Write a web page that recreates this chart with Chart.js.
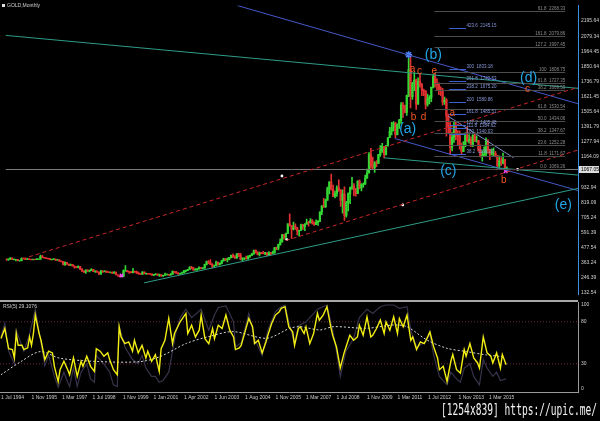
<!DOCTYPE html>
<html><head><meta charset="utf-8">
<script src="https://cdn.jsdelivr.net/npm/chart.js@4.4.1/dist/chart.umd.min.js"></script>
<style>
html,body{margin:0;padding:0;background:#000;width:600px;height:421px;overflow:hidden;position:relative}
canvas{position:absolute;left:0}
#cMain{top:0}
#cRsi{top:300px}
.lbl{position:absolute;color:#d0d0d0;font-family:"Liberation Sans",Arial,sans-serif;font-size:5px;line-height:6px;white-space:nowrap}
.ico{display:inline-block;width:3px;height:3px;background:#e0e0e0;margin-right:2px;vertical-align:middle}
#wm{position:absolute;left:441px;top:401px;color:#f2f2f2;font-family:"DejaVu Sans Mono",monospace;font-size:15px;line-height:18px;white-space:nowrap;transform-origin:0 0;transform:scaleX(0.64)}
</style></head><body>
<canvas id="cMain" width="600" height="300"></canvas>
<canvas id="cRsi" width="600" height="121"></canvas>
<div class="lbl" style="left:2px;top:2px"><span class="ico"></span>GOLD,Monthly</div>
<div class="lbl" style="left:3px;top:303px">RSI(5) 29.1076</div>
<div id="wm">[1254x839] https://upic.me/</div>
<script>
// ================= DATA =================
const firstOpen = 385;
const closes = [
384,386,395,383,383,383,
375,376,392,389,385,387,383,382,384,383,387,387,
405,400,396,392,391,382,385,387,379,379,371,369,
345,362,348,340,345,334,326,325,332,311,296,290,
304,297,301,309,293,296,288,273,294,292,294,288,
287,287,280,286,268,262,255,255,299,300,292,290,
283,293,290,278,275,272,289,276,277,275,273,264,270,273,
265,267,258,264,267,270,265,273,293,286,279,275,279,
282,296,301,308,326,318,304,309,312,323,316,319,347,
368,360,347,334,336,361,346,354,375,388,382,386,398,416,
403,396,426,418,387,394,395,391,408,416,428,453,438,
422,435,432,428,435,417,436,429,433,473,470,496,517,
569,556,582,654,643,614,633,624,599,604,646,632,
651,665,662,679,659,650,665,673,743,789,783,834,
923,971,917,864,885,928,912,833,880,718,815,882,
927,942,917,883,979,927,955,955,1001,1040,1181,1096,
1081,1118,1113,1180,1212,1244,1181,1248,1308,1357,1384,1421,
1332,1411,1439,1556,1536,1500,1628,1825,1620,1722,1746,1564,
1738,1710,1669,1664,1561,1604,1614,1691,1772,1719,1712,1675,
1663,1578,1596,1472,1393,1234,1313,1396,1327,1323,1253,1202,
1244,1326,1284,1296,1250,1327,1282,1287,1210,1172,1175,1184,
1283,1213,1183,1183,1190,1172,1095,1133,1115,1142,1065,1067];
const highs = [
389,388,398,396,389,385,
384,378,396,396,393,392,390,387,386,387,390,389,
418,415,401,396,394,391,387,390,388,385,383,373,
370,366,356,348,349,346,336,329,335,332,314,298,
306,306,304,315,309,298,298,289,301,300,300,297,
292,290,290,291,290,265,263,259,305,338,300,293,
292,316,296,296,288,279,292,290,281,279,278,275,271,276,
274,272,269,266,280,275,271,276,298,294,294,285,281,
289,301,304,309,328,331,325,314,315,327,325,322,349,
372,375,383,353,341,372,366,359,376,392,390,395,401,417,
427,414,428,430,430,396,397,409,413,418,429,456,457,
443,440,438,446,438,436,443,437,447,476,478,500,541,
575,574,584,655,730,643,668,654,628,606,652,650,
656,691,674,695,687,670,684,680,745,794,848,842,
933,976,1033,949,904,943,988,915,913,935,825,889,
933,1007,961,924,981,989,960,965,1025,1070,1195,1227,
1162,1128,1135,1183,1249,1265,1243,1250,1310,1388,1425,1431,
1424,1413,1448,1575,1577,1557,1632,1913,1921,1730,1803,1754,
1764,1790,1721,1677,1665,1640,1629,1693,1788,1796,1755,1726,
1695,1684,1617,1605,1488,1424,1348,1433,1425,1362,1361,1267,
1280,1345,1392,1332,1315,1332,1345,1323,1288,1255,1208,1239,
1307,1294,1220,1224,1232,1205,1175,1170,1157,1191,1142,1088];
const lows = [
377,376,385,382,381,372,
372,370,373,387,382,384,382,380,380,381,382,385,
387,398,394,389,387,380,380,384,377,378,370,365,
342,339,347,336,339,333,317,319,319,306,292,283,
277,294,289,299,292,285,287,271,273,286,290,283,
283,282,278,279,267,256,252,251,254,294,290,277,
281,282,286,276,273,270,271,275,271,272,270,264,261,267,
262,255,255,255,263,266,262,264,270,282,277,271,271,
277,281,289,298,306,312,300,302,301,310,312,313,316,
343,352,345,319,324,335,341,340,350,370,375,366,381,396,
398,392,391,405,381,371,382,387,385,400,413,423,431,
418,411,426,426,421,414,414,418,428,431,459,456,493,
515,538,535,582,636,543,609,612,571,560,604,612,
603,651,637,662,651,642,648,643,671,725,780,779,
833,881,911,861,851,862,900,786,736,681,705,753,
808,915,866,865,884,920,905,933,954,1002,1043,1075,
1074,1044,1089,1113,1166,1196,1155,1175,1245,1308,1330,1360,
1309,1330,1380,1418,1462,1496,1478,1620,1535,1600,1666,1523,
1563,1693,1628,1627,1527,1548,1565,1582,1686,1692,1672,1635,
1627,1555,1562,1321,1339,1180,1208,1272,1291,1251,1221,1182,
1202,1240,1277,1268,1240,1241,1281,1275,1206,1161,1131,1170,
1167,1191,1142,1175,1169,1162,1077,1080,1098,1110,1052,1046];
const currentPrice = 1067.05;

const priceTicks = [2195.64,2079.34,1964.45,1850.64,1736.79,1621.45,1505.64,1391.79,1277.94,1164.09,1050.24,932.94,819.09,705.24,591.39,477.54,363.24,246.39,132.54];
const xTickLabels = ["1 Jul 1994","1 Nov 1995","1 Mar 1997","1 Jul 1998","1 Nov 1999","1 Jan 2001","1 Apr 2002","1 Jun 2003","1 Aug 2004","1 Nov 2005","1 Mar 2007","1 Jul 2008","1 Nov 2009","1 Mar 2011","1 Jul 2012","1 Nov 2013","1 Mar 2015"];
const BARS_PER_LABEL = 16;

// trend lines: [barA, priceA, barB, priceB]
const trendTeal = [[-0.52,2085.8,302.7,1683.4],[199.9,1155.9,302.7,1024.9],[72.9,206.3,302.7,923.3]];
const trendBlue = [[122.2,2312.6,302.7,1566.3],[205.7,1302.2,302.7,907.2]];
const trendSlate = [[234.0,1470.5,268.6,1155.9]];
const channelRed = [[8.4,388.5,302.7,1690.7],[148.0,527.5,302.7,1215.2]];
const whiteDots = [[145.9,1017.6],[148.5,534.8],[209.9,798.2],[270.7,1068.8]];
const pinkMarks = [[60.9,262],[264.4,1054.2]];
const peakStar = [[213.0,1939.4]];

const fibGrayPrice = [2268,2079,1998,1808,1727,1669,1530,1434,1347,1252,1171,1069];
const fibGrayText = ["61.8  2268.33","161.8  2079.86","127.2  1997.45","100  1808.75","61.8  1727.35","38.2  1669.59","61.8  1530.54","50.0  1434.06","38.2  1347.67","23.6  1252.28","11.8  1171.67","0.0  1069.26"];
const fibBluePrice = [2144,1830,1742,1676,1581,1486,1405,1384,1340,1186];
const fibBlueText = ["423.6  2145.15","300  1833.18","261.8  1742.53","238.2  1675.20","200  1580.86","161.8  1485.51","127.2  1405.48","111.8  1384.62","100  1340.03","38.2  1186.23"];

const waveText = ["(b)","(d)","(a)","(c)","(e)"];
const waveBar = [226.1,276.5,212.5,234.0,294.9];
const wavePrice = [1939.4,1763.8,1376.1,1054.2,798.2];
const subText = ["a","c","e","b","d","a","b","c"];
const subBar = [215.1,218.8,226.6,215.6,220.9,236.1,263.4,276.0];
const subPrice = [1829.2,1814.5,1814.5,1463.9,1463.9,1493.2,988.4,1676.0];

// RSI panel: [bar, value]
const rsiMain = [[0,60],[2,72],[4,48],[6,47],[7,37],[8,66],[9,52],[11,52],[12,47],[14,49],[15,62],[16,52],[17,66],[18,88],[20,66],[21,58],[23,35],[25,45],[27,43],[28,27],[30,9],[31,23],[33,33],[35,23],[36,17],[38,37],[40,15],[42,33],[43,27],[45,39],[47,27],[49,21],[50,48],[52,45],[54,39],[56,43],[57,35],[59,23],[61,17],[62,74],[63,62],[65,54],[67,56],[69,45],[70,58],[72,43],[74,52],[76,37],[77,45],[79,33],[81,41],[83,21],[84,48],[86,58],[88,84],[90,54],[91,66],[94,80],[97,90],[98,66],[100,76],[102,62],[104,70],[105,88],[107,60],[109,54],[111,72],[112,60],[114,76],[116,72],[118,88],[120,70],[122,62],[123,47],[125,49],[126,52],[128,68],[130,84],[132,74],[133,54],[135,58],[137,43],[139,56],[140,64],[142,78],[144,88],[146,92],[147,96],[149,98],[151,74],[153,68],[154,52],[156,72],[157,74],[159,66],[160,74],[162,54],[164,66],[166,90],[167,82],[169,88],[171,98],[173,74],[174,64],[176,50],[178,25],[180,43],[181,50],[183,64],[185,58],[187,62],[188,76],[190,64],[192,86],[194,62],[195,64],[197,72],[199,82],[201,66],[202,80],[204,70],[206,86],[208,66],[209,84],[211,74],[213,88],[215,58],[216,62],[218,47],[220,56],[222,54],[223,58],[225,68],[227,50],[229,37],[230,23],[232,27],[234,9],[236,33],[237,41],[239,23],[241,19],[243,47],[244,39],[246,54],[248,37],[250,31],[251,25],[253,62],[255,43],[257,39],[258,31],[260,43],[262,25],[263,41],[265,29]];
const rsiSlow = [[0,62],[2,78],[4,45],[7,30],[8,70],[12,45],[15,65],[18,95],[21,55],[23,28],[25,40],[28,15],[30,2],[33,20],[35,8],[36,3],[38,25],[40,3],[42,20],[45,30],[47,12],[49,8],[50,40],[54,30],[57,20],[59,5],[61,3],[62,75],[65,50],[69,35],[72,30],[74,40],[76,25],[79,15],[81,15],[83,8],[85,10],[88,20],[90,45],[92,70],[94,85],[97,95],[100,85],[105,95],[109,70],[112,88],[114,97],[118,99],[122,80],[123,50],[126,55],[130,90],[133,60],[137,40],[140,70],[144,92],[147,98],[149,100],[151,80],[154,55],[156,75],[160,80],[166,95],[171,100],[174,70],[176,45],[178,15],[181,45],[185,60],[188,85],[192,95],[195,90],[199,98],[202,100],[206,100],[209,96],[213,98],[215,70],[218,50],[222,55],[225,65],[227,40],[230,15],[234,5],[236,20],[239,12],[241,8],[243,25],[246,30],[248,15],[251,5],[253,35],[255,25],[258,15],[260,20],[262,10],[265,12]];
const rsiAvg = [[0,17],[10,32],[20.5,44.5],[31,36.6],[52,32.6],[73,32.6],[83.4,38.5],[97.4,54.4],[110,63],[121.9,68.3],[139.4,60.4],[151.6,72.3],[156.9,74.2],[167.4,70.3],[174.4,74.2],[191.9,72.3],[205.9,76.2],[212.9,74.2],[223.4,58.4],[233.9,48.5],[244.3,44.5],[254.8,40.5],[263.6,38.5]];
const rsiTicks = [0,30,80,100];
const rsiLevels = [80,30];

// ================= SCALE RANGES =================
const X_MIN = -0.52, X_MAX = 302.7;
const Y_MIN = 117.8, Y_MAX = 2312.6;
const R_MIN = -3.57, R_MAX = 103.57;

// ================= BUILD =================
const opens = closes.map((c,i)=> i===0 ? firstOpen : closes[i-1]);
const UP='#33d633', DN='#e03030';
const candleCols = closes.map((c,i)=> c>=opens[i] ? UP : DN);
const wickData = closes.map((c,i)=>({x:i, y:[lows[i], highs[i]]}));
const bodyData = closes.map((c,i)=>({x:i, y:[opens[i], c]}));
const seg = s => [{x:s[0],y:s[1]},{x:s[2],y:s[3]}];
const pts = a => a.map(p=>({x:p[0],y:p[1]}));
const lineDs = (s,color,dash,w) => ({type:'line',data:seg(s),borderColor:color,borderWidth:w||1,borderDash:dash||[],pointRadius:0,fill:false,tension:0});

const FONT = '"Liberation Sans", Arial, sans-serif';
const overlay = {
  id:'overlay',
  afterDatasetsDraw(chart){
    const {ctx, scales:{x,y}, chartArea:a} = chart;
    const X=v=>x.getPixelForValue(v), Y=v=>y.getPixelForValue(v);
    ctx.save();
    ctx.beginPath(); ctx.rect(a.left,a.top,a.right-a.left,a.bottom-a.top); ctx.clip();
    ctx.font = '4.5px '+FONT; ctx.lineWidth=1;
    fibGrayPrice.forEach((v,i)=>{
      const yy=Math.round(Y(v))+0.5;
      ctx.strokeStyle='#4d4d4d'; ctx.beginPath(); ctx.moveTo(X(226.7),yy); ctx.lineTo(X(295.9),yy); ctx.stroke();
      ctx.fillStyle='#8c8c8c'; ctx.textAlign='right'; ctx.textBaseline='bottom';
      ctx.fillText(fibGrayText[i], X(295.9), yy-0.5);
    });
    fibBluePrice.forEach((v,i)=>{
      const yy=Math.round(Y(v))+0.5;
      ctx.strokeStyle='#3f5fcf'; ctx.beginPath(); ctx.moveTo(X(234.5),yy); ctx.lineTo(X(243.4),yy); ctx.stroke();
      ctx.fillStyle='#8a98d8'; ctx.textAlign='left'; ctx.textBaseline='bottom';
      ctx.fillText(fibBlueText[i], X(243.6), yy-0.5);
    });
    ctx.textAlign='center'; ctx.textBaseline='middle';
    ctx.font = '14px '+FONT; ctx.fillStyle='#22a6e6';
    waveText.forEach((t,i)=>ctx.fillText(t, X(waveBar[i]), Y(wavePrice[i])));
    ctx.font = '10px '+FONT; ctx.fillStyle='#f5571f';
    subText.forEach((t,i)=>ctx.fillText(t, X(subBar[i]), Y(subPrice[i])));
    ctx.restore();
  },
  afterDraw(chart){
    const {ctx, scales:{y}} = chart;
    const yy = y.getPixelForValue(currentPrice);
    ctx.save();
    ctx.fillStyle='#dcdcdc'; ctx.fillRect(579, yy-3.5, 20, 7);
    ctx.fillStyle='#000'; ctx.font='5px '+FONT; ctx.textAlign='left'; ctx.textBaseline='middle';
    ctx.fillText(currentPrice.toFixed(2), 581, yy);
    ctx.restore();
  }
};

const mainDatasets = [];
channelRed.forEach(s=>mainDatasets.push(lineDs(s,'#c8262a',[4,3],1)));
trendTeal.forEach(s=>mainDatasets.push(lineDs(s,'#2f9c88')));
trendBlue.forEach(s=>mainDatasets.push(lineDs(s,'#4658c8')));
trendSlate.forEach(s=>mainDatasets.push(lineDs(s,'#7e8cc8')));
mainDatasets.push({type:'line',data:pts(whiteDots),showLine:false,pointRadius:1.4,pointBackgroundColor:'#ffffff',pointBorderWidth:0});
mainDatasets.push({type:'line',data:pts(pinkMarks),showLine:false,pointStyle:'crossRot',pointRadius:2.5,pointBorderColor:'#ff45ff',pointBorderWidth:1.3});
mainDatasets.push({type:'line',data:pts(peakStar),showLine:false,pointStyle:'star',pointRadius:3.5,pointBorderColor:'#4f86ff',pointBorderWidth:1.5});
mainDatasets.push({type:'line',data:[{x:X_MIN,y:currentPrice},{x:X_MAX,y:currentPrice}],borderColor:'#7a7a7a',borderWidth:1,pointRadius:0});
mainDatasets.push({type:'bar',data:bodyData,backgroundColor:candleCols,barThickness:1.6,grouped:false,borderWidth:0});
mainDatasets.push({type:'bar',data:wickData,backgroundColor:candleCols,barThickness:1,grouped:false,borderWidth:0});

new Chart(document.getElementById('cMain'),{
  type:'bar',
  data:{datasets:mainDatasets},
  options:{
    responsive:false, animation:false, events:[],
    plugins:{legend:{display:false},tooltip:{enabled:false}},
    layout:{padding:0},
    scales:{
      x:{type:'linear',min:X_MIN,max:X_MAX,offset:false,display:false},
      y:{type:'linear',position:'right',min:Y_MIN,max:Y_MAX,
         grid:{display:false,drawTicks:false},
         border:{display:true,color:'#3c8fe2',width:1},
         ticks:{color:'#d0d0d0',font:{size:5,family:FONT},padding:3,callback:v=>Number(v).toFixed(2)},
         afterBuildTicks:s=>{s.ticks=priceTicks.map(v=>({value:v}));},
         afterFit:s=>{s.width=22;s.paddingTop=0;s.paddingBottom=0;}}
    }
  },
  plugins:[overlay]
});

const rsiOverlay = {
  id:'rsiOverlay',
  afterDraw(chart){
    const {ctx, chartArea:a} = chart;
    ctx.save(); ctx.fillStyle='#a8a8a8'; ctx.fillRect(0,0,a.right,2); ctx.restore();
  }
};

const rsiDatasets = [
  {data:pts(rsiMain),borderColor:'#f2ee12',borderWidth:1.4,pointRadius:0,tension:0},
  {data:pts(rsiAvg),borderColor:'#d8d8d8',borderWidth:1,borderDash:[2,2],pointRadius:0,tension:0.3},
  {data:pts(rsiSlow),borderColor:'#38324a',borderWidth:1.2,pointRadius:0,tension:0}
];
rsiLevels.forEach(v=>rsiDatasets.push({data:[{x:X_MIN,y:v},{x:X_MAX,y:v}],borderColor:'#6e2848',borderWidth:1,borderDash:[1,2],pointRadius:0}));

new Chart(document.getElementById('cRsi'),{
  type:'line',
  data:{datasets:rsiDatasets},
  options:{
    responsive:false, animation:false, events:[],
    plugins:{legend:{display:false},tooltip:{enabled:false}},
    layout:{padding:{top:2,left:0,right:0,bottom:0}},
    scales:{
      x:{type:'linear',min:X_MIN,max:X_MAX,offset:false,
         grid:{display:false,drawTicks:false},
         border:{display:true,color:'#9a9a9a',width:1},
         ticks:{color:'#c8c8c8',font:{size:5,family:FONT},padding:3,align:'start',maxRotation:0,autoSkip:false,
                callback:v=>xTickLabels[Math.round(v/BARS_PER_LABEL)]||''},
         afterBuildTicks:s=>{s.ticks=xTickLabels.map((l,i)=>({value:i*BARS_PER_LABEL}));},
         afterFit:s=>{s.height=29;s.paddingLeft=0;s.paddingRight=0;}},
      y:{type:'linear',position:'right',min:R_MIN,max:R_MAX,
         grid:{display:false,drawTicks:false},
         border:{display:true,color:'#9a9a9a',width:1},
         ticks:{color:'#d0d0d0',font:{size:5,family:FONT},padding:3,callback:v=>String(v)},
         afterBuildTicks:s=>{s.ticks=rsiTicks.map(v=>({value:v}));},
         afterFit:s=>{s.width=22;s.paddingTop=0;s.paddingBottom=0;}}
    }
  },
  plugins:[rsiOverlay]
});
</script>
</body></html>
